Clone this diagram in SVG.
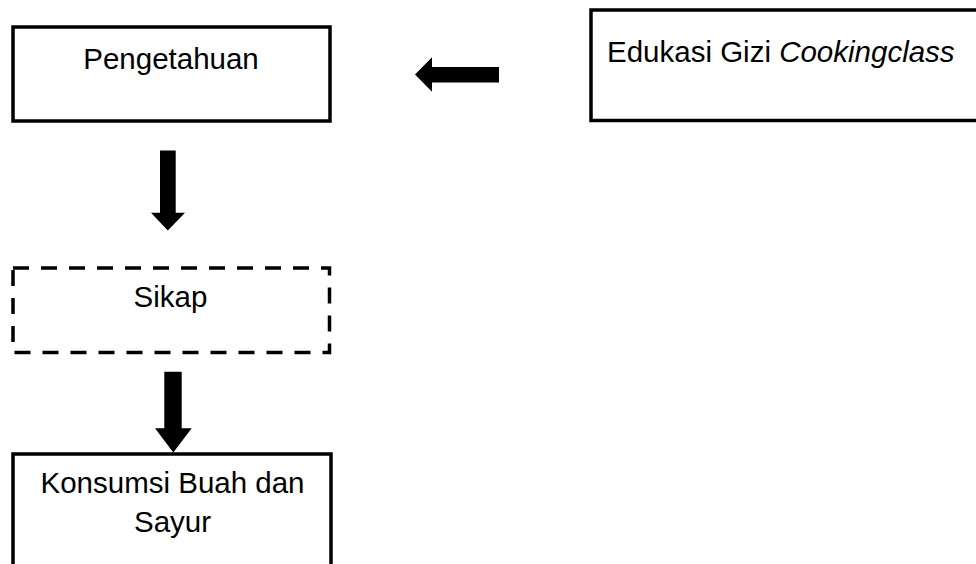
<svg xmlns="http://www.w3.org/2000/svg" width="976" height="564" viewBox="0 0 976 564">
  <style>
    .box { fill: #ffffff; stroke: #000000; stroke-width: 3.5; }
    .dashed { stroke-dasharray: 16 12; }
    .label { font-family: "Liberation Sans", Arial, sans-serif; font-size: 29.5px; fill: #000000; }
    .arrow { fill: #000000; stroke: none; }
  </style>
  <rect width="976" height="564" fill="#ffffff"/>

  <g id="node-pengetahuan">
    <rect class="box" x="13" y="27" width="317" height="94"/>
    <text class="label" x="171" y="69.3" text-anchor="middle">Pengetahuan</text>
  </g>

  <g id="node-edukasi">
    <rect class="box" x="591" y="10" width="400" height="110.5"/>
    <text class="label" x="607" y="61.7">Edukasi Gizi <tspan font-style="italic">Cookingclass</tspan></text>
  </g>

  <g id="node-sikap">
    <rect class="box dashed" x="13" y="268" width="316.5" height="84.5" fill="none"/>
    <text class="label" x="170.5" y="307.3" text-anchor="middle">Sikap</text>
  </g>

  <g id="node-konsumsi">
    <rect class="box" x="13" y="454" width="318" height="140"/>
    <text class="label" x="172.5" y="493.3" text-anchor="middle">Konsumsi Buah dan</text>
    <text class="label" x="172.5" y="531.5" text-anchor="middle">Sayur</text>
  </g>

  <g id="connectors">
    <!-- Edukasi -> Pengetahuan -->
    <polygon class="arrow" points="499,67 432,67 432,57.3 415,74.5 432,91.7 432,82.5 499,82.5"/>
    <!-- Pengetahuan -> Sikap -->
    <polygon class="arrow" points="160,150.5 175.7,150.5 175.7,212.7 185,212.7 167.8,230.5 151,212.7 160,212.7"/>
    <!-- Sikap -> Konsumsi -->
    <polygon class="arrow" points="164.3,371.7 181.7,371.7 181.7,428.3 191.7,428.3 173.3,452.5 155,428.3 164.3,428.3"/>
  </g>
</svg>
